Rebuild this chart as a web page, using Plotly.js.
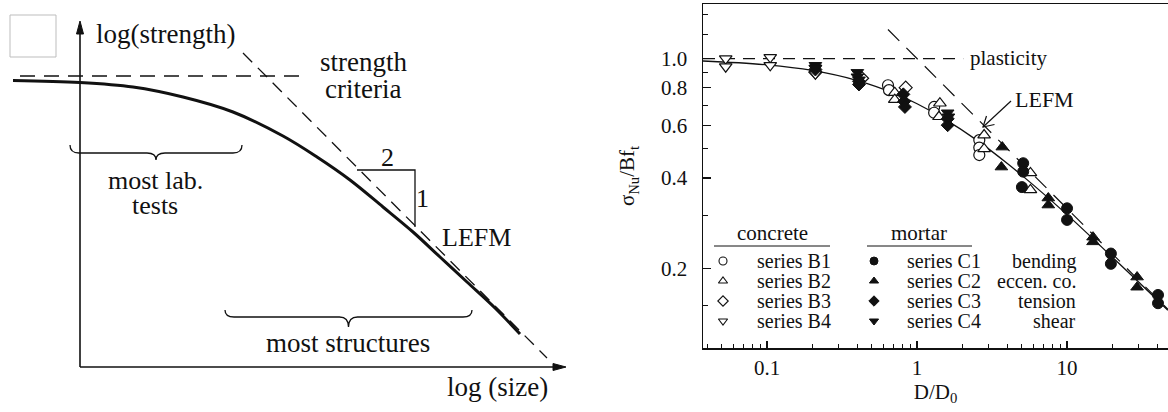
<!DOCTYPE html>
<html><head><meta charset="utf-8">
<script src="https://cdn.plot.ly/plotly-3.0.1.min.js"></script>
<style>html,body{margin:0;padding:0;background:#fff}#chart{width:1168px;height:412px}</style>
</head><body><div id="chart"></div>
<script>
// ---------- Right panel: measured data (D/D0 , sigma_Nu/Bf_t) ----------
const b1D = [0.64, 0.65, 1.30, 1.30, 2.60, 2.60, 2.60];
const b1S = [0.815, 0.785, 0.69, 0.66, 0.535, 0.505, 0.477];
const b2D = [0.71, 0.71, 1.42, 1.40, 2.80, 2.80, 5.70, 5.70];
const b2S = [0.77, 0.73, 0.71, 0.64, 0.556, 0.50, 0.416, 0.365];
const b3D = [0.21, 0.43, 0.84];
const b3S = [0.90, 0.86, 0.80];
const b4D = [0.053, 0.053, 0.105, 0.105, 0.21, 0.21];
const b4S = [1.00, 0.94, 1.01, 0.95, 0.93, 0.89];
const c1D = [5.1, 5.1, 5.0, 10, 10, 19.6, 19.6, 40.4, 40.4];
const c1S = [0.448, 0.42, 0.373, 0.317, 0.29, 0.224, 0.207, 0.163, 0.153];
const c2D = [3.7, 3.65, 7.5, 7.5, 14.9, 14.9, 29.3, 29.3];
const c2S = [0.507, 0.435, 0.343, 0.325, 0.254, 0.245, 0.187, 0.173];
const c3D = [0.21, 0.41, 0.41, 0.81, 0.82, 0.83, 1.6, 1.6];
const c3S = [0.92, 0.84, 0.82, 0.76, 0.72, 0.69, 0.63, 0.60];
const c4D = [0.21, 0.21, 0.40, 0.40, 0.41, 1.6, 1.62];
const c4S = [0.95, 0.93, 0.90, 0.87, 0.85, 0.66, 0.64];

// fitted size-effect curve, plasticity and LEFM asymptotes
const curveD = [0.037, 0.1, 0.2, 0.4, 0.7, 1, 1.5, 2.5, 4, 6, 10, 15, 20, 30, 47];
const curveS = [0.982, 0.953, 0.913, 0.845, 0.767, 0.707, 0.632, 0.535, 0.447, 0.378, 0.302, 0.25, 0.218, 0.18, 0.145];
const plastD = [0.0374, 2.03];
const plastS = [1.0, 1.0];
const lefmD = [0.64, 47];
const lefmS = [1.25, 0.146];

const xTickVals = [0.1, 1, 10];
const xTickText = ['0.1', '1', '10'];
const yTickVals = [0.2, 0.4, 0.6, 0.8, 1.0];
const yTickText = ['0.2', '0.4', '0.6', '0.8', '1.0'];

// legend
const concreteLabels = ['series B1', 'series B2', 'series B3', 'series B4'];
const mortarLabels = ['series C1', 'series C2', 'series C3', 'series C4'];
const testLabels = ['bending', 'eccen. co.', 'tension', 'shear'];
const openSymbols = ['circle', 'triangle-up', 'diamond', 'triangle-down'];

// ---------- Left panel: schematic (log size , log strength) ----------
const schemLogSize = [-0.67, 0, 0.53, 1.03, 1.53, 2.03, 2.37, 2.70, 3.03, 3.33, 3.60, 3.87, 4.15, 4.40];
const schemLogStrength = [2.865, 2.845, 2.80, 2.70, 2.55, 2.31, 2.10, 1.87, 1.60, 1.35, 1.10, 0.85, 0.59, 0.33];
const schemLefmX = [1.63, 4.67];
const schemLefmY = [3.14, 0.09];
const schemCritX = [-0.60, 2.22];
const schemCritY = [2.91, 2.91];

// ---------- layout constants (pixels) ----------
const W = 1168, H = 412;
const FONT = 'Liberation Serif, Times New Roman, serif';
const INK = '#111';
const plotL = 703, plotT = 4, plotB = 348;

function minorLog(lo, hi) {
  const out = [];
  for (let e = lo; e <= hi; e++) for (let m = 2; m <= 9; m++) out.push(m * Math.pow(10, e));
  return out;
}

const traces = [];
// right panel lines
traces.push({x: plastD, y: plastS, xaxis: 'x', yaxis: 'y', mode: 'lines',
  line: {color: INK, width: 1.2, dash: '12px,8px'}, hoverinfo: 'skip'});
traces.push({x: lefmD, y: lefmS, xaxis: 'x', yaxis: 'y', mode: 'lines',
  line: {color: INK, width: 1.2, dash: '16px,10px'}, hoverinfo: 'skip'});
traces.push({x: curveD, y: curveS, xaxis: 'x', yaxis: 'y', mode: 'lines', line: {color: INK, width: 1.3, shape: 'spline'}});

const openSeries = [[b1D, b1S], [b2D, b2S], [b3D, b3S], [b4D, b4S]];
const fillSeries = [[c1D, c1S], [c2D, c2S], [c3D, c3S], [c4D, c4S]];
openSeries.forEach((s, i) => traces.push({x: s[0], y: s[1], xaxis: 'x', yaxis: 'y', mode: 'markers',
  marker: {symbol: openSymbols[i], size: i === 2 ? 10 : 11, color: '#fff', line: {color: INK, width: 1.2}}}));
fillSeries.forEach((s, i) => traces.push({x: s[0], y: s[1], xaxis: 'x', yaxis: 'y', mode: 'markers',
  marker: {symbol: openSymbols[i], size: i === 2 ? 10 : 11, color: INK, line: {color: INK, width: 1}}}));

// legend markers (pixel overlay)
const legRows = [261, 281, 301, 321];
const legOpenX = 723, legFillX = 874, legTextB = 755, legTextC = 905, legTestR = 1078;
openSymbols.forEach((sym, i) => {
  traces.push({x: [legOpenX], y: [legRows[i]], xaxis: 'x3', yaxis: 'y3', mode: 'markers',
    marker: {symbol: sym, size: 8, color: '#fff', line: {color: INK, width: 1.1}}});
  traces.push({x: [legFillX], y: [legRows[i]], xaxis: 'x3', yaxis: 'y3', mode: 'markers',
    marker: {symbol: sym, size: 8, color: INK, line: {color: INK, width: 1}}});
});

// left panel traces
traces.push({x: schemCritX, y: schemCritY, xaxis: 'x2', yaxis: 'y2', mode: 'lines',
  line: {color: INK, width: 1.3, dash: '15px,9px'}});
traces.push({x: schemLefmX, y: schemLefmY, xaxis: 'x2', yaxis: 'y2', mode: 'lines',
  line: {color: INK, width: 1.3, dash: '13px,8px'}});
traces.push({x: schemLogSize, y: schemLogStrength, xaxis: 'x2', yaxis: 'y2', mode: 'lines',
  line: {color: INK, width: 3, shape: 'spline'}});

const annotations = [];
function txt(x, y, text, size, xanchor) {
  annotations.push({x: x, y: y, xref: 'x3', yref: 'y3', text: text, showarrow: false,
    xanchor: xanchor || 'center', yanchor: 'middle', font: {family: FONT, size: size, color: INK}});
}
// left panel texts
txt(165, 34, 'log(strength)', 27);
txt(363, 62, 'strength', 27);
txt(363, 89, 'criteria', 27);
txt(155, 180, 'most lab.', 26);
txt(155, 205, 'tests', 26);
txt(387, 157, '2', 26);
txt(422, 198, '1', 26);
txt(476, 237, 'LEFM', 26);
txt(348, 343, 'most structures', 27);
txt(497, 387, 'log (size)', 27);

// right panel texts
txt(968, 58, 'plasticity', 21, 'left');
txt(1013, 99, 'LEFM', 22, 'left');
txt(772, 233, 'concrete', 21);
txt(919, 233, 'mortar', 21);
legRows.forEach((r, i) => {
  txt(legTextB, r, concreteLabels[i], 20, 'left');
  txt(legTextC, r, mortarLabels[i], 20, 'left');
  txt(legTestR, r, testLabels[i], 20, 'right');
});

function brace(x1, x2, yEnd, yLine, yCusp, r) {
  const xc = (x1 + x2) / 2;
  return `M ${x1},${yEnd} Q ${x1},${yLine} ${x1 + r},${yLine} L ${xc - r},${yLine} Q ${xc},${yLine} ${xc},${yCusp} ` +
         `Q ${xc},${yLine} ${xc + r},${yLine} L ${x2 - r},${yLine} Q ${x2},${yLine} ${x2},${yEnd}`;
}

const shapes = [
  // gray placeholder square
  {type: 'rect', xref: 'x3', yref: 'y3', x0: 10, x1: 56, y0: 15, y1: 57, line: {color: '#bdbdbd', width: 1}},
  // schematic axes (origin at 0,0 of the schematic units)
  {type: 'line', xref: 'x2', yref: 'y2', x0: 0, y0: 0, x1: 0, y1: 3.36, line: {color: INK, width: 1.6}},
  {type: 'line', xref: 'x2', yref: 'y2', x0: 0, y0: 0, x1: 4.76, y1: 0, line: {color: INK, width: 1.6}},
  {type: 'path', xref: 'x3', yref: 'y3', path: 'M 76.5,34 L 80,21 L 83.5,34 Z', fillcolor: INK, line: {color: INK, width: 1}},
  {type: 'path', xref: 'x3', yref: 'y3', path: 'M 553,363.5 L 566,367 L 553,370.5 Z', fillcolor: INK, line: {color: INK, width: 1}},
  // 2:1 slope triangle
  {type: 'path', xref: 'x2', yref: 'y2', path: 'M 2.77,1.97 L 3.35,1.97 L 3.35,1.40', line: {color: INK, width: 1.3}},
  // braces
  {type: 'path', xref: 'x2', yref: 'y2', path: brace(-0.10, 1.62, 2.22, 2.14, 2.07, 0.09), line: {color: INK, width: 1.3}},
  {type: 'path', xref: 'x2', yref: 'y2', path: brace(1.45, 3.92, 0.57, 0.50, 0.40, 0.09), line: {color: INK, width: 1.3}},
  // LEFM pointer arrow (right panel)
  {type: 'line', xref: 'x3', yref: 'y3', x0: 1011, y0: 101, x1: 983, y1: 127, line: {color: INK, width: 1.2}},
  {type: 'path', xref: 'x3', yref: 'y3', path: 'M 994.5,124.5 L 983,127 L 986.5,116', line: {color: INK, width: 1.2}},
  // legend underlines
  {type: 'line', xref: 'x3', yref: 'y3', x0: 714, x1: 830, y0: 246, y1: 246, line: {color: INK, width: 1}},
  {type: 'line', xref: 'x3', yref: 'y3', x0: 867, x1: 972, y0: 246, y1: 246, line: {color: INK, width: 1}}
];

const axisFont = {family: FONT, size: 21, color: INK};
const layout = {
  width: W, height: H, margin: {l: 0, r: 0, t: 0, b: 0},
  paper_bgcolor: '#fff', plot_bgcolor: 'rgba(0,0,0,0)', showlegend: false,
  font: {family: FONT, color: INK},
  xaxis: {type: 'log', domain: [plotL / W, 1], range: [Math.log10(0.0374), 1.673], anchor: 'y',
    showline: true, linecolor: INK, linewidth: 1.5, mirror: true, showgrid: false, zeroline: false,
    ticks: 'inside', ticklen: 7, tickwidth: 1.2, tickcolor: INK, tickvals: xTickVals, ticktext: xTickText,
    minor: {tickvals: minorLog(-2, 1), ticks: 'inside', ticklen: 4, tickwidth: 1, tickcolor: INK, showgrid: false},
    tickfont: axisFont, ticklabelstandoff: 0,
    title: {text: 'D/D<sub>0</sub>', font: axisFont, standoff: 0}},
  yaxis: {type: 'log', domain: [(H - plotB) / H, (H - plotT) / H], range: [Math.log10(0.1085), 0.182], anchor: 'x',
    showline: true, linecolor: INK, linewidth: 1.5, mirror: false, showgrid: false, zeroline: false,
    ticks: 'inside', ticklen: 8, tickwidth: 1.2, tickcolor: INK, tickvals: yTickVals, ticktext: yTickText,
    minor: {tickvals: [0.15, 0.3, 0.5, 0.7, 0.9, 1.2, 1.4], ticks: 'inside', ticklen: 5, tickwidth: 1, tickcolor: INK, showgrid: false},
    tickfont: axisFont, ticklabelstandoff: 10,
    title: {text: 'σ<sub>Nu</sub>/Bf<sub>t</sub>', font: axisFont, standoff: 20}},
  xaxis2: {domain: [0, 600 / W], range: [-0.8, 5.2], anchor: 'y2', visible: false, fixedrange: true},
  yaxis2: {domain: [0, 1], range: [-0.45, 3.67], anchor: 'x2', visible: false, fixedrange: true},
  xaxis3: {domain: [0, 1], range: [0, W], anchor: 'y3', visible: false, fixedrange: true},
  yaxis3: {domain: [0, 1], range: [H, 0], anchor: 'x3', visible: false, fixedrange: true},
  shapes: shapes, annotations: annotations
};

Plotly.newPlot('chart', traces, layout, {staticPlot: true, displayModeBar: false});
</script>
</body></html>
